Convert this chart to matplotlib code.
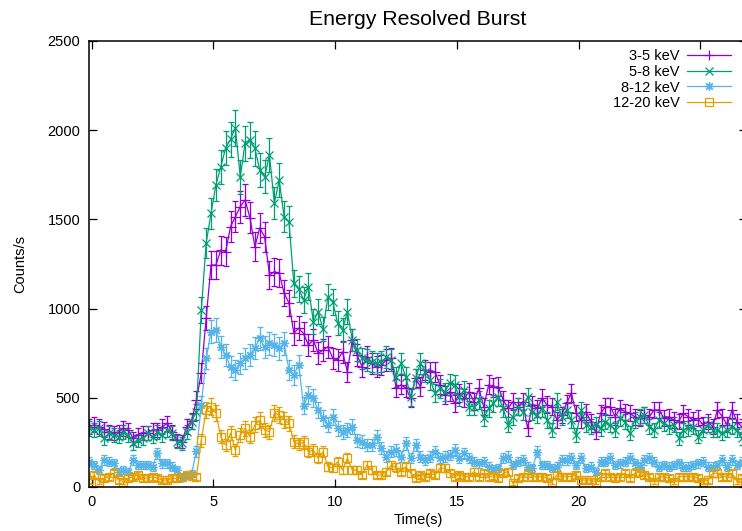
import numpy as np
import matplotlib
matplotlib.use("Agg")
import matplotlib.pyplot as plt
from matplotlib.lines import Line2D

plt.rcParams['font.family'] = ['Liberation Sans', 'DejaVu Sans']

# light curve in 0.2 s bins, bin centres from -0.1 s
bin_width = 0.2
time = -0.1 + bin_width * np.arange(136)

rate_3_5 = [
    338, 348, 338, 323, 310, 301, 310, 329, 320, 273, 291, 301, 301, 320, 320, 338, 357, 310, 263, 254,
    338, 370, 488, 639, 947, 1244, 1244, 1328, 1319, 1459, 1515, 1571, 1609, 1508, 1347, 1452, 1403, 1188, 1207, 1199,
    1087, 1031, 863, 890, 860, 796, 824, 749, 768, 786, 721, 712, 758, 646, 824, 740, 674, 730, 693, 674,
    684, 712, 721, 555, 572, 555, 499, 609, 562, 656, 646, 646, 572, 516, 534, 469, 525, 497, 534, 478,
    553, 450, 572, 560, 562, 488, 441, 478, 450, 478, 329, 460, 441, 497, 460, 450, 376, 404, 469, 525,
    413, 376, 422, 366, 310, 413, 450, 450, 394, 441, 422, 413, 394, 385, 404, 394, 432, 432, 385, 394,
    376, 366, 413, 394, 376, 385, 348, 366, 338, 432, 394, 348, 432, 366, 338, 350,
]
rate_5_8 = [
    329, 320, 329, 273, 301, 291, 282, 310, 291, 245, 263, 273, 301, 282, 310, 291, 320, 301, 254, 245,
    310, 366, 422, 992, 1368, 1535, 1693, 1794, 1900, 1950, 2012, 1738, 1928, 1945, 1898, 1777, 1739, 1861, 1590, 1721,
    1515, 1487, 1142, 1110, 1050, 1123, 927, 983, 884, 1067, 1039, 918, 880, 983, 824, 768, 721, 712, 702, 693,
    702, 730, 712, 618, 693, 618, 506, 609, 693, 646, 600, 525, 553, 534, 581, 572, 506, 544, 450, 450,
    488, 385, 441, 470, 506, 441, 348, 394, 450, 422, 506, 422, 404, 441, 376, 320, 478, 394, 432, 376,
    291, 432, 348, 338, 348, 329, 366, 348, 320, 385, 366, 301, 376, 394, 404, 338, 320, 376, 357, 338,
    348, 273, 320, 329, 338, 282, 320, 348, 320, 320, 301, 320, 338, 320, 273, 300,
]
rate_8_12 = [
    142, 123, 95, 151, 142, 133, 86, 95, 86, 151, 123, 123, 123, 114, 189, 133, 133, 114, 95, 49,
    67, 75, 200, 460, 721, 871, 880, 786, 740, 674, 656, 693, 721, 740, 780, 833, 786, 805, 796, 777,
    805, 656, 628, 684, 455, 516, 497, 432, 385, 348, 394, 329, 310, 320, 338, 263, 254, 235, 235, 282,
    217, 170, 198, 207, 170, 245, 161, 235, 170, 151, 170, 198, 161, 170, 179, 207, 161, 189, 161, 142,
    133, 142, 114, 100, 105, 161, 170, 123, 142, 151, 114, 105, 198, 123, 123, 105, 114, 151, 151, 161,
    123, 161, 105, 114, 86, 142, 142, 161, 123, 133, 142, 161, 133, 114, 151, 161, 142, 114, 123, 114,
    123, 133, 114, 114, 123, 133, 142, 114, 114, 123, 151, 114, 151, 123, 142, 130,
]
rate_12_20 = [
    39, 67, 30, 49, 58, 77, 39, 30, 49, 58, 67, 49, 49, 58, 49, 39, 39, 49, 49, 58,
    67, 60, 58, 263, 432, 450, 413, 282, 235, 301, 207, 291, 329, 282, 348, 376, 320, 310, 413, 404,
    376, 357, 254, 240, 250, 198, 207, 161, 198, 114, 105, 142, 95, 161, 95, 95, 67, 123, 95, 67,
    67, 86, 123, 110, 86, 114, 77, 49, 67, 58, 77, 67, 105, 105, 77, 58, 67, 58, 58, 86,
    58, 77, 58, 62, 49, 77, 86, 21, 49, 58, 77, 58, 58, 58, 49, 30, 67, 58, 58, 58,
    67, 39, 39, 39, 30, 58, 77, 58, 49, 58, 77, 49, 77, 86, 67, 58, 30, 58, 58, 49,
    30, 58, 58, 58, 58, 49, 30, 39, 77, 77, 58, 58, 77, 30, 49, 55,
]

labels = ['3-5 keV', '5-8 keV', '8-12 keV', '12-20 keV']
colors = ['#9400d3', '#009e73', '#56b4e9', '#e69f00']
markers = ['+', 'x', (8, 2, 0), 's']
sizes = [7, 6, 6.5, 6]
series = [rate_3_5, rate_5_8, rate_8_12, rate_12_20]

fig = plt.figure(figsize=(7.42, 5.31), dpi=100)
ax = fig.add_axes([89.3 / 742, 1 - 487 / 531, (746.7 - 89.3) / 742, 446 / 531])

handles = []
for rate, lab, col, mk, ms in zip(series, labels, colors, markers, sizes):
    rate = np.asarray(rate, dtype=float)
    err = np.sqrt(rate / bin_width)  # poisson errors
    ax.errorbar(time, rate, yerr=err, color=col, lw=0.9, elinewidth=0.9,
                capsize=2.5, capthick=0.9, marker=mk, ms=ms, mew=0.9,
                mfc='none')
    handles.append(Line2D([], [], color=col, lw=0.9, marker=mk, ms=ms,
                          mew=0.9, mfc='none'))

ax.set_xlim(-0.1, 26.9)
ax.set_ylim(0, 2500)
ax.set_xticks(np.arange(0, 30, 5))
ax.set_yticks(np.arange(0, 2501, 500))
ax.tick_params(direction='in', length=6, width=0.9, top=True, right=True,
               labelsize=10.5, colors='black')
ax.tick_params(axis='y', pad=6.5)
ax.tick_params(axis='x', pad=5.5)
for sp in ax.spines.values():
    sp.set_linewidth(1.1)

ax.set_title('Energy Resolved Burst', fontsize=15.3, pad=11.5)
ax.set_xlabel('Time(s)', fontsize=10.5)
ax.set_ylabel('Counts/s', fontsize=10.5)
ax.xaxis.set_label_coords(0.5, -0.058)
ax.yaxis.set_label_coords(-0.095, 0.5)

ax.legend(handles, labels, loc='upper right',
          bbox_to_anchor=(731 / 742, 1 - 49 / 531), bbox_transform=fig.transFigure,
          frameon=False, markerfirst=False, handlelength=3.0, handletextpad=0.5,
          labelspacing=0.12, borderpad=0, borderaxespad=0, fontsize=10.5)

fig.savefig('out.png', dpi=100)
